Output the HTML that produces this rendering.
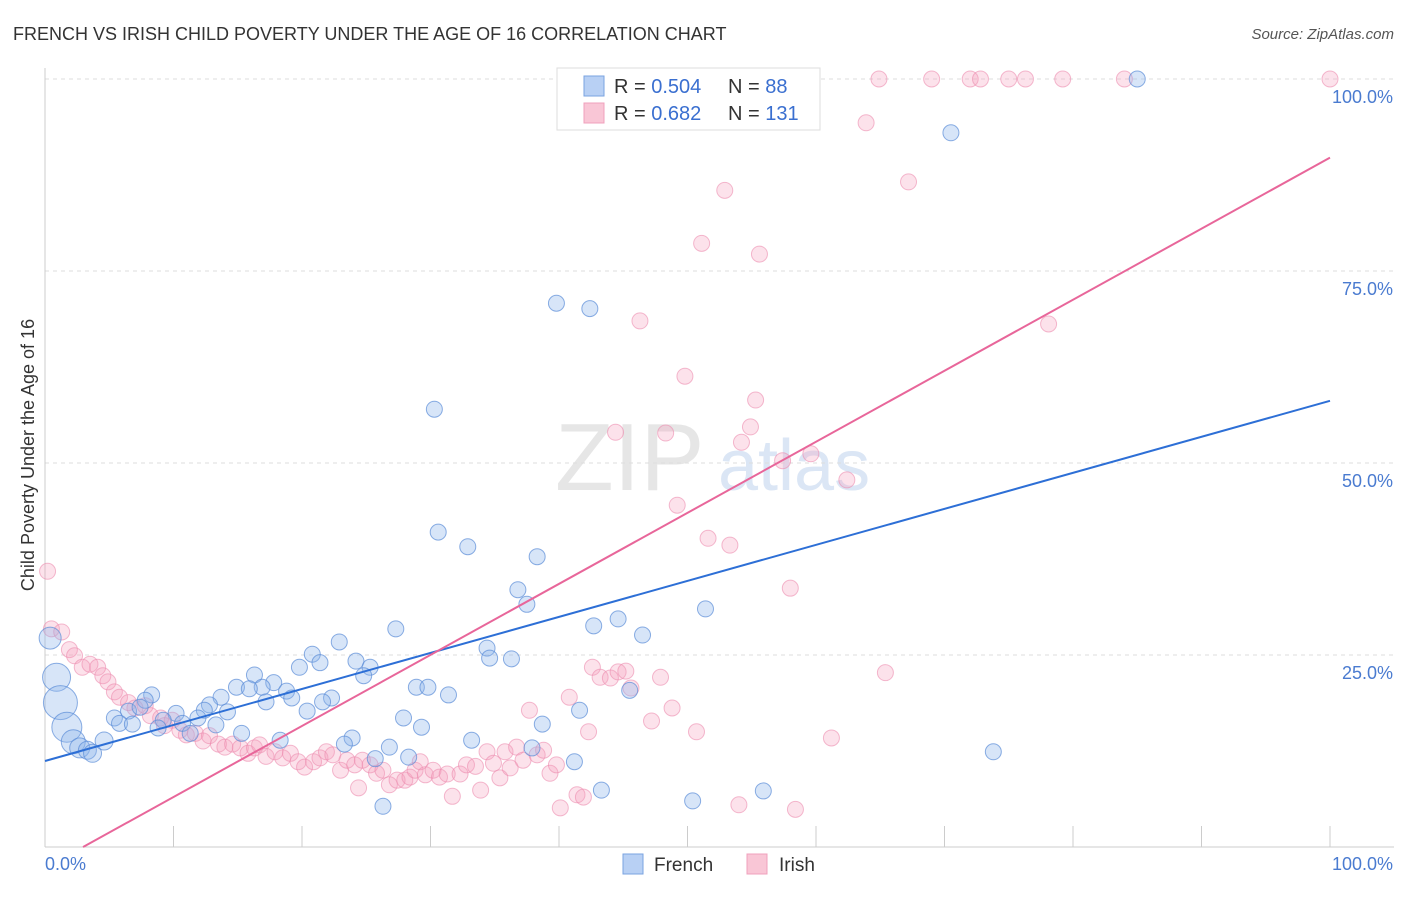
<!DOCTYPE html>
<html><head><meta charset="utf-8"><style>
body{margin:0;background:#fff;font-family:"Liberation Sans",sans-serif;}
svg text{font-family:"Liberation Sans",sans-serif;}
</style></head><body>
<svg id="chart" width="1406" height="892" xmlns="http://www.w3.org/2000/svg">
<text x="13" y="40" font-size="18" fill="#333">FRENCH VS IRISH CHILD POVERTY UNDER THE AGE OF 16 CORRELATION CHART</text>
<text x="1394" y="39" font-size="15" fill="#555" text-anchor="end" font-style="italic">Source: ZipAtlas.com</text>
<text x="555" y="490" font-size="96" fill="#e6e6e6" font-family="Liberation Serif">ZIP</text>
<text x="718" y="490" font-size="72" fill="#dbe6f5">atlas</text>
<g id="grid"></g>
<g id="axes"></g>
<g id="pts"></g>
<g id="lines"></g>
<text transform="translate(34,455) rotate(-90)" font-size="18" fill="#333" text-anchor="middle">Child Poverty Under the Age of 16</text>
<g>
<rect x="557" y="68" width="263" height="62" fill="#fff" stroke="#ddd"/>
<rect x="584" y="76" width="20" height="20" fill="#b8d0f4" stroke="#7aa3e0"/>
<text x="614" y="93" font-size="20" fill="#333">R = <tspan fill="#3a6fd0">0.504</tspan></text>
<text x="728" y="93" font-size="20" fill="#333">N = <tspan fill="#3a6fd0"> 88</tspan></text>
<rect x="584" y="103" width="20" height="20" fill="#f9c6d6" stroke="#f0a0bc"/>
<text x="614" y="120" font-size="20" fill="#333">R = <tspan fill="#3a6fd0"> 0.682</tspan></text>
<text x="728" y="120" font-size="20" fill="#333">N = <tspan fill="#3a6fd0">131</tspan></text>
</g>
<g>
<rect x="623" y="854" width="20" height="20" fill="#b8d0f4" stroke="#7aa3e0"/>
<text x="654" y="871" font-size="19" fill="#333">French</text>
<rect x="747" y="854" width="20" height="20" fill="#f9c6d6" stroke="#f0a0bc"/>
<text x="779" y="871" font-size="19" fill="#333">Irish</text>
</g>
</svg>
<script>
const yTicks=[25,50,75,100];
const yTickLabels=["25.0%","50.0%","75.0%","100.0%"];
const xTicks=[0,10,20,30,40,50,60,70,80,90,100];
const blueX=[85.0,70.5,39.8,42.4,30.3,30.6,32.9,38.3,36.8,37.5,51.4,44.6,42.7,46.5,27.3,22.9,34.4,34.6,36.3,20.8,21.4,19.8,24.2,25.3,24.8,16.3,17.8,14.9,16.9,15.9,18.8,19.2,17.2,22.3,21.6,20.4,28.9,29.8,31.4,13.7,12.8,12.4,14.2,8.3,7.8,6.5,7.4,5.4,5.8,6.8,10.2,11.9,13.3,10.7,9.2,8.8,11.3,15.3,27.9,29.3,38.7,41.6,45.5,18.3,23.9,23.3,26.8,33.2,37.9,25.7,28.3,41.2,43.3,26.3,50.4,55.9,73.8,0.4,0.9,1.2,1.7,2.2,2.7,3.3,3.7,4.6];
const blueY=[100,93.0,70.8,70.1,57.0,41.0,39.1,37.8,33.5,31.6,31.0,29.7,28.8,27.6,28.4,26.7,25.9,24.6,24.5,25.1,24.0,23.4,24.2,23.4,22.3,22.4,21.4,20.8,20.8,20.6,20.3,19.4,18.9,19.4,18.9,17.7,20.8,20.8,19.8,19.5,18.5,17.8,17.6,19.8,19.1,17.7,18.2,16.8,16.1,16.0,17.4,16.8,15.9,16.1,16.5,15.5,14.8,14.8,16.8,15.6,16.0,17.8,20.4,13.9,14.2,13.4,13.0,13.9,12.9,11.5,11.7,11.1,7.4,5.3,6.0,7.3,12.4,27.2,22.1,18.8,15.6,13.7,12.9,12.6,12.2,13.8];
const blueR=[8,8,8,8,8,8,8,8,8,8,8,8,8,8,8,8,8,8,8,8,8,8,8,8,8,8,8,8,8,8,8,8,8,8,8,8,8,8,8,8,8,8,8,8,8,8,8,8,8,8,8,8,8,8,8,8,8,8,8,8,8,8,8,8,8,8,8,8,8,8,8,8,8,8,8,8,8,11,14,17,15,12,10,9,9,9];
const pinkX=[0.2,0.5,1.3,1.9,2.3,2.9,3.5,4.1,4.5,4.9,5.4,5.8,6.5,7.0,7.8,8.2,9.0,9.3,9.9,10.5,11.0,11.7,12.3,12.8,13.5,14.0,14.6,15.2,15.8,16.3,16.7,17.2,17.9,18.5,19.1,19.7,20.2,20.9,21.4,21.9,22.4,23.0,23.5,24.1,24.4,24.7,25.3,25.8,26.3,26.8,27.4,28.0,28.4,28.8,29.2,29.6,30.2,30.7,31.3,31.7,32.3,32.8,33.5,33.9,34.4,34.9,35.4,35.8,36.2,36.7,37.2,37.7,38.3,38.8,39.3,39.8,40.1,40.8,41.4,41.9,42.3,42.6,43.2,44.0,44.6,45.2,45.6,47.2,47.9,48.8,50.7,44.4,46.3,48.3,49.8,49.2,51.6,53.3,51.1,52.9,54.2,54.9,55.3,55.6,57.4,58.0,59.6,62.4,63.9,67.2,78.1,65.4,61.2,54.0,58.4,47.5,59.1,64.9,69.0,72.0,72.8,75.0,76.3,79.2,84.0,100];
const pinkY=[35.9,28.4,28.0,25.7,24.9,23.4,23.8,23.4,22.3,21.5,20.2,19.5,18.8,18.1,18.4,17.1,16.8,15.8,16.5,15.2,14.6,14.8,13.8,14.5,13.4,13.0,13.4,12.9,12.2,12.9,13.3,11.8,12.4,11.6,12.2,11.1,10.4,11.1,11.6,12.4,12.0,10.0,11.3,10.7,7.7,11.3,10.7,9.6,10.0,8.1,8.7,8.7,9.1,10.0,11.1,9.4,10.0,9.1,9.5,6.6,9.5,10.7,10.5,7.4,12.4,10.9,9.0,12.4,10.3,13.0,11.3,17.8,12.0,12.6,9.6,10.7,5.1,19.5,6.8,6.5,15.0,23.4,22.1,22.0,22.8,22.9,20.7,16.4,22.1,18.1,15.0,54.0,68.5,53.9,61.3,44.5,40.2,39.3,78.6,85.5,52.7,54.7,58.2,77.2,50.3,33.7,51.2,47.8,94.3,86.6,68.1,22.7,14.2,5.5,4.9,97.9,100,100,100,100,100,100,100,100,100,100];
const blueFit=[11.2,58.1];
const pinkFit=[-2.74,0.925];
const X0=45,X1=1330,Y0=847,Y100=79;
const sx=v=>X0+(X1-X0)*v/100;
const sy=v=>Y0-(Y0-Y100)*v/100;
const NS="http://www.w3.org/2000/svg";
function mk(tag,attrs,parent){const e=document.createElementNS(NS,tag);for(const k in attrs)e.setAttribute(k,attrs[k]);parent.appendChild(e);return e;}
const grid=document.getElementById('grid'),axes=document.getElementById('axes'),pts=document.getElementById('pts'),lines=document.getElementById('lines');
yTicks.forEach((t,i)=>{
 const g=mk('line',{x1:X0,x2:1394,y1:sy(t),y2:sy(t),stroke:'#ddd','stroke-dasharray':'4,4'},grid);
 
 
 const l=mk('text',{x:1393,y:sy(t)+24,'font-size':18,fill:'#4a7bd0','text-anchor':'end'},axes);
 l.textContent=yTickLabels[i];
 
 
});
const ax=mk('line',{x1:X0,x2:X0,y1:68,y2:Y0,stroke:'#ccc'},axes);


const bx=mk('line',{x1:X0,x2:1394,y1:Y0,y2:Y0,stroke:'#ccc'},axes);


xTicks.forEach(t=>{
 const k=mk('line',{x1:sx(t),x2:sx(t),y1:826,y2:Y0,stroke:'#ccc'},axes);
 
 
});
const xl0=mk('text',{x:45,y:870,'font-size':18,fill:'#4a7bd0'},axes);xl0.textContent='0.0%';


const xl1=mk('text',{x:1393,y:870,'font-size':18,fill:'#4a7bd0','text-anchor':'end'},axes);xl1.textContent='100.0%';


pinkX.forEach((v,i)=>{
 const c=mk('circle',{cx:sx(v),cy:sy(pinkY[i]),r:8,fill:'rgba(244,160,190,0.3)',stroke:'rgba(236,140,175,0.6)','stroke-width':1},pts);
 
 
});
blueX.forEach((v,i)=>{
 const c=mk('circle',{cx:sx(v),cy:sy(blueY[i]),r:blueR[i],fill:'rgba(140,180,235,0.35)',stroke:'rgba(90,140,215,0.7)','stroke-width':1},pts);
 
 
});
const bl=mk('line',{x1:sx(0),y1:sy(blueFit[0]),x2:sx(100),y2:sy(blueFit[1]),stroke:'#2d6fd6','stroke-width':2},lines);


const px0=-pinkFit[0]/pinkFit[1];
const pl=mk('line',{x1:sx(px0),y1:sy(0),x2:sx(100),y2:sy(pinkFit[0]+pinkFit[1]*100),stroke:'#e8669a','stroke-width':2},lines);


</script>
</body></html>
